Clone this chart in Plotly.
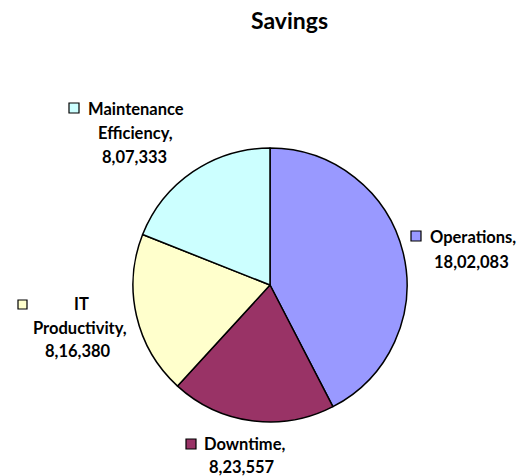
import plotly.graph_objects as go

# ---- data ----
categories = ["Operations", "Downtime", "IT Productivity", "Maintenance Efficiency"]
values = [1802083, 823557, 816380, 807333]
colors = ["#9999FF", "#993366", "#FFFFCC", "#CCFFFF"]
title_text = "Savings"

W, H = 519, 476


def indian(n):
    s = str(int(n))
    if len(s) <= 3:
        return s
    last3 = s[-3:]
    rest = s[:-3]
    groups = []
    while len(rest) > 2:
        groups.insert(0, rest[-2:])
        rest = rest[:-2]
    if rest:
        groups.insert(0, rest)
    return ",".join(groups) + "," + last3


def px(x):
    return x / W


def py(y):
    return 1 - y / H


fig = go.Figure()
fig.add_trace(go.Pie(
    labels=categories,
    values=values,
    marker=dict(colors=colors, line=dict(color="black", width=1.5)),
    sort=False,
    direction="clockwise",
    rotation=0,
    textinfo="none",
    hoverinfo="label+value",
    showlegend=False,
    domain=dict(x=[px(133), px(407)], y=[py(422), py(148)]),
))

FONT = dict(family="Lato", size=16.5, color="black", weight="bold")

label_lines = {
    "Operations": [("Operations,", 428, 237, "left"), (indian(values[0]), 471, 262, "center")],
    "Downtime": [("Downtime,", 202, 444, "left"), (indian(values[1]), 242, 467, "center")],
    "IT Productivity": [("IT", 81, 304, "center"), ("Productivity,", 80, 328, "center"), (indian(values[2]), 78, 351, "center")],
    "Maintenance Efficiency": [("Maintenance", 86, 109, "left"), ("Efficiency,", 135, 133, "center"), (indian(values[3]), 134, 157, "center")],
}
squares = {
    "Operations": (411, 231, 421, 241),
    "Downtime": (186, 439, 196, 449),
    "IT Productivity": (18, 300, 27, 309),
    "Maintenance Efficiency": (69, 103, 79, 113),
}

annotations = []
shapes = []
for cat, col in zip(categories, colors):
    for txt, x, y, anc in label_lines[cat]:
        annotations.append(dict(
            text=txt, x=px(x), y=py(y), xref="paper", yref="paper",
            xanchor=anc, yanchor="middle", showarrow=False, font=FONT,
        ))
    x0, y0, x1, y1 = squares[cat]
    shapes.append(dict(
        type="rect", xref="paper", yref="paper",
        x0=px(x0), x1=px(x1), y0=py(y1), y1=py(y0),
        fillcolor=col, line=dict(color="black", width=1.2),
    ))

annotations.append(dict(
    text=title_text, x=px(289), y=py(20), xref="paper", yref="paper",
    xanchor="center", yanchor="middle", showarrow=False,
    font=dict(family="Lato", size=23, color="black", weight="bold"),
))

fig.update_layout(
    width=W, height=H,
    margin=dict(l=0, r=0, t=0, b=0),
    paper_bgcolor="white",
    plot_bgcolor="white",
    annotations=annotations,
    shapes=shapes,
)

fig.write_html(
    "out.html",
    config={"displayModeBar": False},
    post_script="document.body.style.margin='0';document.body.style.overflow='hidden';",
)
